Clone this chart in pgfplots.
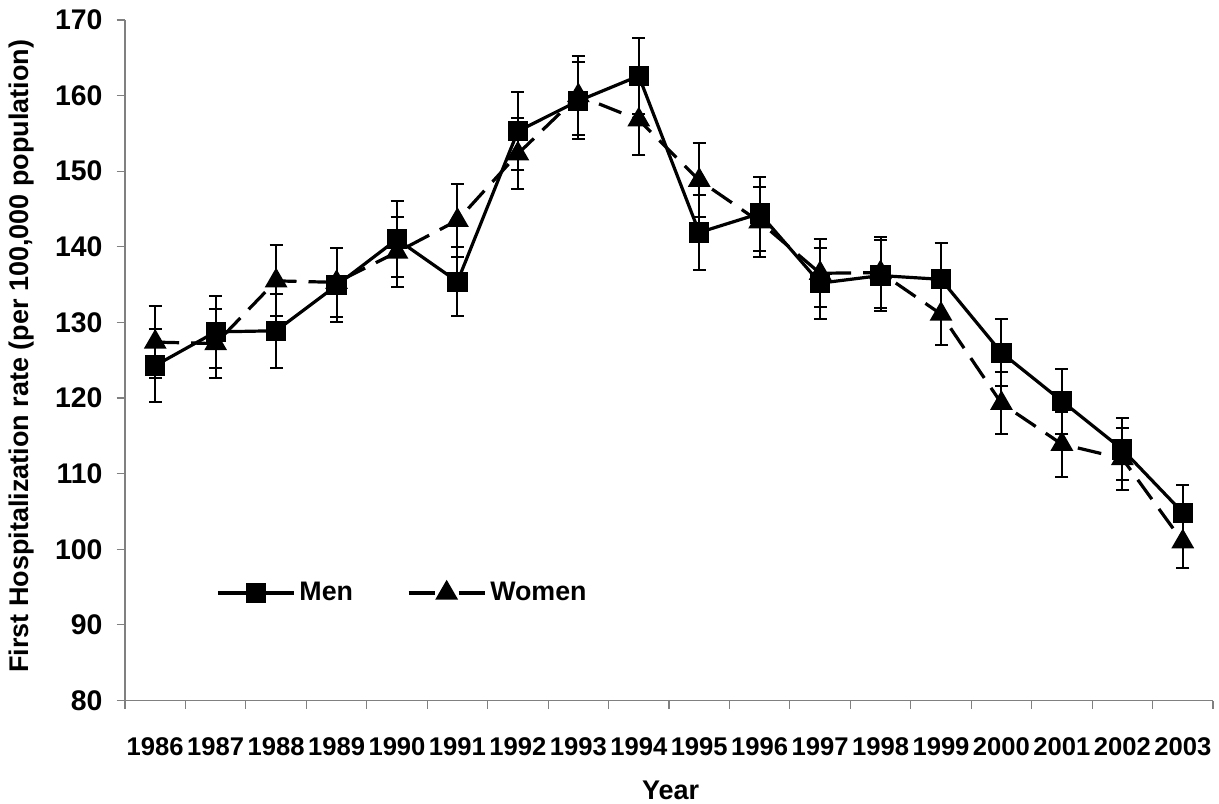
\documentclass[border=0pt]{standalone}
\usepackage{fontspec}
\setmainfont{Liberation Sans}
\usepackage{pgfplots}
\usepackage{pgfplotstable}
\pgfplotsset{compat=1.18}
\pgfplotsset{
  menleg/.style={legend image code/.code={\draw[mark repeat=2,mark phase=2,##1] plot coordinates {(0pt,0pt) (19pt,0pt) (38pt,0pt)};}},
  womenleg/.style={legend image code/.code={\draw[mark repeat=2,mark phase=2,##1,dash pattern=on 13pt off 12pt] plot coordinates {(0pt,0pt) (19pt,0pt) (38pt,0pt)};}},
}

\pgfplotstableread{
x y e
0 124.3 4.8
1 128.75 4.8
2 128.9 4.9
3 134.9 4.9
4 141.0 5.0
5 135.4 4.6
6 155.3 5.2
7 159.3 5.1
8 162.6 5.0
9 141.9 5.0
10 144.4 4.9
11 135.2 4.7
12 136.2 4.75
13 135.7 4.75
14 126.0 4.4
15 119.6 4.3
16 113.2 4.1
17 104.85 3.7
}\men

\pgfplotstableread{
x y e
0 127.4 4.8
1 127.2 4.6
2 135.5 4.7
3 135.3 4.6
4 139.3 4.6
5 143.5 4.8
6 152.3 4.7
7 160.0 5.2
8 156.8 4.6
9 148.8 4.9
10 143.3 4.65
11 136.5 4.5
12 136.6 4.7
13 131.1 4.1
14 119.3 4.1
15 113.9 4.3
16 112.0 4.1
17 101.0 3.5
}\women

\begin{document}
\begin{tikzpicture}
\path[use as bounding box] (-62.5pt,-51.25pt) rectangle (547pt,350.25pt);
\begin{axis}[
  at={(0,0)}, anchor=south west,
  scale only axis,
  width=544pt, height=340.25pt,
  xmin=-0.5, xmax=17.5,
  ymin=80, ymax=170,
  axis x line=bottom, axis y line=left,
  axis line style={-, draw=gray, line width=0.6pt},
  tick style={draw=gray, line width=0.6pt},
  tick align=outside,
  xtick={0,...,17},
  xticklabels={1986,1987,1988,1989,1990,1991,1992,1993,1994,1995,1996,1997,1998,1999,2000,2001,2002,2003},
  major x tick style={draw=none},
  minor xtick={-0.5,0.5,...,17.5},
  minor tick length=4.2pt,
  ytick={80,90,...,170},
  major tick length=4.2pt,
  /pgf/number format/assume math mode=true,
  xticklabel style={font=\bfseries\fontsize{12.8pt}{14pt}\selectfont, yshift=-11pt},
  yticklabel style={font=\bfseries\fontsize{14.2pt}{16pt}\selectfont, xshift=-3.5pt},
  xlabel={Year},
  ylabel={First Hospitalization rate (per 100,000 population)},
  xlabel style={font=\bfseries\fontsize{13.5pt}{15pt}\selectfont, at={(axis description cs:0.5014,-0.1315)}, anchor=center},
  ylabel style={font=\bfseries\fontsize{13.5pt}{15pt}\selectfont, at={(axis description cs:-0.0947,0.506)}, anchor=center, rotate=0},
  legend columns=2,
  legend style={draw=none, fill=none, at={(axis description cs:0.078,0.158)}, anchor=west,
    font=\bfseries\fontsize{13.4pt}{15pt}\selectfont,
    /tikz/every even column/.append style={column sep=25pt}},
  clip=false,
]
\addplot[black, line width=1.6pt, mark=square*, mark size=4.25pt,
  mark options={solid}, menleg,
  error bars/.cd, y dir=both, y explicit,
  error bar style={line width=1pt, solid, black},
  error mark options={rotate=90, mark size=3.25pt, line width=1pt, black}]
  table[x=x, y=y, y error=e] {\men};
\addlegendentry{Men}
\addplot[black, line width=1.6pt, dash pattern=on 12pt off 6pt, mark=triangle*, mark size=5pt,
  mark options={solid}, womenleg,
  error bars/.cd, y dir=both, y explicit,
  error bar style={line width=1pt, solid, black},
  error mark options={rotate=90, mark size=3.25pt, line width=1pt, black, solid}]
  table[x=x, y=y, y error=e] {\women};
\addlegendentry{Women}
\end{axis}
\end{tikzpicture}
\end{document}
